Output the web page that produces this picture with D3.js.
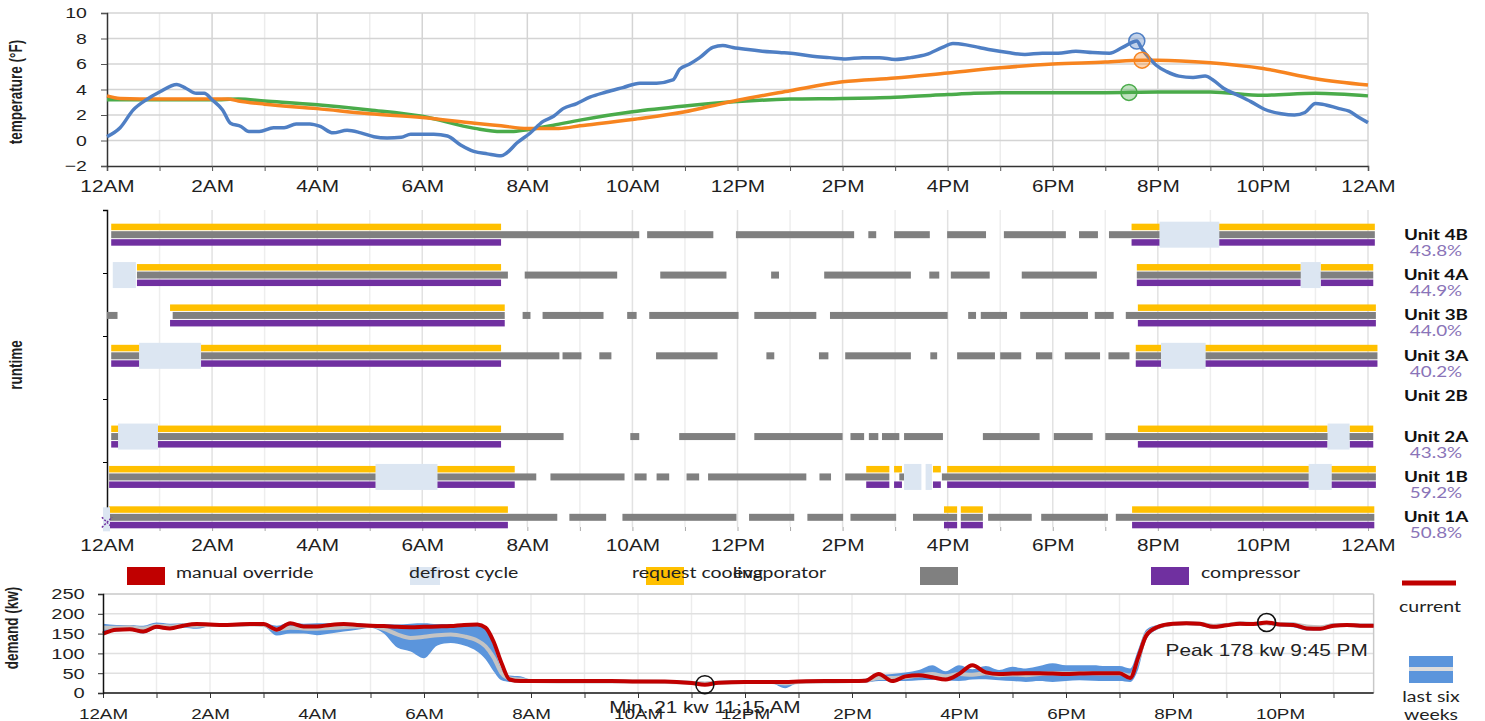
<!DOCTYPE html>
<html>
<head>
<meta charset="utf-8">
<title>Store refrigeration day</title>
<script src="https://cdn.jsdelivr.net/npm/d3@7"></script>
<style>
  body { margin: 0; background: #fff; }
  svg { display: block; font-family: "Liberation Sans", Arial, sans-serif; }
  .tick text { fill: #1f1f1f; }
  .lato { font-family: Lato, "Liberation Sans", sans-serif; }
</style>
</head>
<body>
<svg id="chart" width="1485" height="721"></svg>
<script>
const hourLabels = ['12AM','2AM','4AM','6AM','8AM','10AM','12PM','2PM','4PM','6PM','8PM','10PM','12AM'];
const tempTicks = [-2, 0, 2, 4, 6, 8, 10];
const demandTicks = [0, 50, 100, 150, 200, 250];

// temperature traces (hour of day -> °F)
const blueHours = [0,0.25,0.5,0.75,1,1.33,1.5,1.7,1.85,2,2.2,2.35,2.55,2.7,2.9,3.17,3.37,3.6,3.86,4.06,4.3,4.57,4.83,5.08,5.33,5.6,5.78,6.03,6.22,6.48,6.73,6.98,7.24,7.5,7.6,7.8,8.05,8.3,8.5,8.68,8.94,9.19,9.5,9.82,10.14,10.46,10.77,10.9,11.09,11.28,11.53,11.72,11.91,12.16,12.47,12.8,13.1,13.43,13.75,14.06,14.38,14.7,15,15.3,15.6,15.9,16.1,16.35,16.6,16.84,17.15,17.47,17.8,18.1,18.44,18.76,19.08,19.33,19.6,19.7,19.83,19.97,20.17,20.4,20.67,20.9,21.05,21.25,21.5,21.77,22.03,22.35,22.6,22.8,23,23.13,23.45,23.64,23.83,24];
const blueTemp = [0.3,1.0,2.4,3.2,3.8,4.4,4.1,3.7,3.7,3.2,2.4,1.35,1.1,0.7,0.7,1.0,1.0,1.3,1.3,1.1,0.6,0.8,0.6,0.3,0.2,0.25,0.5,0.5,0.5,0.35,-0.35,-0.85,-1.05,-1.2,-1.0,-0.2,0.57,1.5,1.9,2.5,2.9,3.4,3.8,4.15,4.5,4.5,4.75,5.6,6.0,6.5,7.3,7.45,7.3,7.15,7.0,6.9,6.8,6.6,6.5,6.4,6.5,6.5,6.35,6.5,6.75,7.3,7.6,7.5,7.3,7.1,6.9,6.75,6.85,6.85,7.0,6.9,6.85,7.3,7.8,7.15,6.5,5.9,5.4,5.05,4.95,5.05,4.75,4.1,3.6,3.05,2.45,2.1,2.0,2.2,2.9,2.85,2.5,2.3,1.8,1.4];
const orangeHours = [0,0.25,1,2,2.3,2.5,3,4,5,6,7,7.5,8,8.6,9,10,11,11.5,12,13,14,15,16,17,18,19,19.7,20,21,22,23,24];
const orangeTemp = [3.5,3.3,3.25,3.25,3.25,3.1,2.85,2.5,2.1,1.8,1.35,1.15,0.95,0.95,1.15,1.65,2.25,2.7,3.15,3.9,4.6,4.9,5.3,5.7,6.0,6.15,6.3,6.3,6.1,5.65,4.85,4.35];
const greenHours = [0,1,2,2.5,3,4,5,6,7,7.5,7.7,8,8.5,9,10,11,12,13,14,15,16,16.5,17,18,19,20,21,22,23,24];
const greenTemp = [3.2,3.2,3.2,3.25,3.1,2.8,2.4,1.9,0.95,0.7,0.7,0.85,1.2,1.6,2.25,2.7,3.05,3.25,3.3,3.4,3.6,3.7,3.75,3.75,3.75,3.8,3.8,3.55,3.7,3.5];
const markerHours = [19.6, 19.7, 19.45]; // blue, orange, green

// runtime, one list of [start, end] hours per unit
const unitNames = ['Unit 4B','Unit 4A','Unit 3B','Unit 3A','Unit 2B','Unit 2A','Unit 1B','Unit 1A'];
const unitRuntime = ['43.8%','44.9%','44.0%','40.2%','','43.3%','59.2%','50.8%'];
const coolingRuns = [
  [[0.08,7.5],[19.5,20.05],[21.15,24.13]],
  [[0.57,7.5],[19.6,22.72],[23.1,24.1]],
  [[1.2,7.57],[19.62,24.15]],
  [[0.08,7.5],[19.58,24.18]],
  [],
  [[0.08,7.5],[19.62,23.23],[23.65,24.1]],
  [[0.04,7.76],[14.45,14.89],[14.98,15.13],[15.72,15.87],[15.99,24.15]],
  [[0.04,7.63],[15.93,16.18],[16.25,16.67],[19.51,24.12]]
];
const evaporatorRuns = [
  [[0.08,10.13],[10.28,11.54],[11.97,14.22],[14.49,14.64],[14.98,15.66],[15.99,16.73],[17.07,18.25],[18.5,18.86],[19.07,24.13]],
  [[0.57,7.63],[7.95,9.71],[10.53,11.79],[12.64,12.79],[13.65,15.3],[15.65,15.84],[16.06,16.8],[17.41,18.84],[19.6,24.1]],
  [[0,0.2],[1.25,7.57],[7.91,8.06],[8.29,9.45],[9.9,10.08],[10.32,12.02],[12.32,13.5],[13.76,16.0],[16.39,16.54],[16.63,17.13],[17.38,18.67],[18.8,19.16],[19.39,24.15]],
  [[0.08,8.61],[8.67,9.03],[9.37,9.6],[10.45,11.62],[12.55,12.7],[13.55,13.73],[14.05,15.3],[15.67,15.8],[16.18,16.9],[17.0,17.4],[17.68,17.99],[18.23,18.9],[19.06,19.46],[19.58,24.18]],
  [],
  [[0.08,8.69],[9.96,10.13],[10.89,11.96],[12.32,14.0],[14.15,14.41],[14.5,14.68],[14.75,15.08],[15.17,15.91],[16.67,17.75],[18.02,18.76],[19.0,24.1]],
  [[0.04,8.17],[8.44,9.85],[10.04,10.27],[10.46,10.7],[11.03,11.27],[11.44,13.31],[13.56,13.78],[14.05,14.89],[15.08,15.17],[15.89,24.15]],
  [[0.04,8.57],[8.8,9.5],[9.81,11.98],[12.22,13.08],[13.33,14.01],[14.15,15.02],[15.34,16.18],[16.25,16.67],[16.77,17.6],[17.78,19.05],[19.2,24.12]]
];
const compressorRuns = [
  [[0.08,7.5],[19.5,20.05],[21.15,24.13]],
  [[0.57,7.5],[19.6,22.72],[23.1,24.1]],
  [[1.2,7.57],[19.62,24.15]],
  [[0.08,7.5],[19.58,24.18]],
  [],
  [[0.08,7.5],[19.62,23.23],[23.65,24.1]],
  [[0.04,7.76],[14.45,14.89],[14.98,15.13],[15.72,15.87],[15.99,24.15]],
  [[0.04,7.63],[15.93,16.18],[16.25,16.67],[19.51,24.12]]
];
const defrostRuns = [
  [[20.03,21.17]],
  [[0.11,0.55],[22.72,23.1]],
  [],
  [[0.61,1.79],[20.06,20.91]],
  [],
  [[0.21,0.97],[23.23,23.65]],
  [[5.11,6.29],[15.17,15.5],[15.58,15.7],[22.87,23.31]],
  []
];
const overrideMarks = [['Unit 1A', 0]];

const legendLabels = ['manual override','defrost cycle','request cooling','evaporator','compressor'];
const legendColors = ['#C00000','#DCE6F2','#FFC000','#808080','#7030A0'];

// demand (kw)
const demandHours = [0,0.25,0.5,0.75,1,1.25,1.5,1.75,2,2.25,2.5,2.75,3,3.25,3.5,3.75,4,4.25,4.5,4.75,5,5.25,5.5,5.75,6,6.25,6.5,6.75,7,
  7.15,7.3,7.45,7.6,7.8,8, 8.5,9,9.5,10,10.5,11, 11.25,11.5,12,12.5,12.75,13,13.5,14,
  14.25,14.5,14.75,15,15.25,15.5,15.75,16,16.25,16.5,16.75,17,17.25,17.5,17.75,18,18.25,18.5,18.75,19,
  19.2,19.35,19.5,19.7,20, 20.25,20.5,20.75,21,21.25,21.5,21.75,22,22.25,22.5,22.75,23,23.25,23.5,23.75];
const demandCurrent = [150,160,161,155,167,163,170,174,173,172,173,174,174,160,176,168,168,172,174,172,170,169,167,166,167,168,169,172,173,
  165,130,75,34,30,30, 30,30,30,29,29,25, 21,26,28,28,28,29,30,30,
  31,48,30,42,45,40,34,48,70,52,48,49,50,50,49,48,49,50,50,50,
  38,90,145,166,175, 176,175,167,171,175,174,178,173,172,163,162,170,172,170,170];
const sixWeekLow = [152,155,158,150,162,160,165,162,168,168,168,170,168,145,150,150,146,150,155,160,165,150,115,105,88,120,126,120,104,
  85,55,32,28,27,27, 26,26,26,26,25,22, 20,22,25,24,12,25,26,26,
  26,30,30,30,32,33,32,30,34,35,32,30,28,30,28,30,32,31,30,30,
  28,60,135,160,170, 172,170,163,167,171,170,172,168,166,158,158,166,168,166,166];
const sixWeekHigh = [175,172,172,170,178,175,176,176,176,176,176,176,176,170,178,175,176,176,176,176,174,174,173,175,176,174,174,174,175,
  168,120,60,44,42,34, 32,32,32,32,32,30, 28,30,32,32,30,32,33,34,
  36,45,48,52,58,70,55,70,60,68,58,66,62,68,75,70,70,70,68,68,
  62,110,160,172,178, 180,179,174,176,180,178,180,178,178,170,168,176,176,175,175];
const sixWeekMean = [165,165,166,163,170,168,171,170,172,172,172,173,172,160,165,163,162,164,166,168,170,162,148,139,142,146,148,143,132,
  118,90,50,37,34,30, 29,29,29,29,28,26, 24,26,28,28,24,28,29,30,
  31,38,38,40,44,48,42,48,46,50,45,47,45,48,50,50,50,50,49,49,
  44,85,148,166,174, 176,175,170,172,176,175,176,174,173,168,166,171,172,170,170];

const SX = 1.3; // the picture is stretched sideways, text too
const svg = d3.select('#chart');

function stretchText(sel) { sel.attr('transform', `scale(${SX},1)`); }
function putText(g, x, y, str) {
  return g.append('text').attr('transform', `translate(${x},${y}) scale(${SX},1)`).text(str);
}
function axisTitle(g, x, y, str) {
  return g.append('text').attr('transform', `translate(${x},${y}) scale(${SX},1) rotate(-90)`)
    .attr('text-anchor', 'middle').attr('font-size', 13.5).attr('font-weight', 'bold')
    .attr('fill', '#1f1f1f').text(str);
}
function hourTick(h) { return h % 2 ? '' : hourLabels[h / 2]; }
function clock(h) {
  const hh = Math.floor(h), mm = Math.round((h - hh) * 60);
  const ap = hh < 12 ? 'AM' : 'PM';
  return `${(hh % 12) || 12}:${String(mm).padStart(2, '0')} ${ap}`;
}
function interp(hours, vals, h) {
  const i = Math.min(d3.bisectLeft(hours, h), hours.length - 1);
  if (i === 0) return vals[0];
  const t = (h - hours[i - 1]) / (hours[i] - hours[i - 1]);
  return vals[i - 1] + t * (vals[i] - vals[i - 1]);
}

// ---------- temperature ----------
const xT = d3.scaleLinear().domain([0, 24]).range([107, 1368]);
const yT = d3.scaleLinear().domain([-2, 10]).range([166, 13]);
const tempG = svg.append('g');

tempG.append('g').selectAll('line').data(d3.range(1, 25)).join('line')
  .attr('x1', d => xT(d)).attr('x2', d => xT(d)).attr('y1', yT(10)).attr('y2', yT(-2))
  .attr('stroke', d => d % 2 ? '#ececec' : '#d4d4d4').attr('stroke-width', 1.5);
tempG.append('g').selectAll('line').data(tempTicks.slice(1)).join('line')
  .attr('x1', xT(0)).attr('x2', xT(24)).attr('y1', d => yT(d)).attr('y2', d => yT(d))
  .attr('stroke', '#d4d4d4').attr('stroke-width', 1.5);

const tx = tempG.append('g').attr('transform', `translate(0,${yT(-2)})`)
  .call(d3.axisBottom(xT).tickValues(d3.range(0, 25)).tickFormat(hourTick).tickSize(5).tickPadding(10));
const ty = tempG.append('g').attr('transform', `translate(${xT(0)},0)`)
  .call(d3.axisLeft(yT).tickValues(tempTicks).tickSize(6).tickPadding(9.5));
[tx, ty].forEach(a => {
  a.select('.domain').attr('stroke', '#333').attr('stroke-width', 1.5);
  a.selectAll('.tick line').attr('stroke', '#555');
  a.selectAll('text').call(stretchText);
});
tx.selectAll('text').attr('font-size', 16);
ty.selectAll('text').attr('font-size', 15);

const tempLine = d3.line().x(d => xT(d[0])).y(d => yT(d[1])).curve(d3.curveMonotoneX);
const tempSeries = [
  { hours: greenHours, vals: greenTemp, color: '#4aab4a' },
  { hours: orangeHours, vals: orangeTemp, color: '#f7841f' },
  { hours: blueHours, vals: blueTemp, color: '#4f7fc4' }
];
tempSeries.forEach(s => {
  tempG.append('path').datum(d3.zip(s.hours, s.vals)).attr('d', tempLine)
    .attr('fill', 'none').attr('stroke', s.color).attr('stroke-width', 3.5).attr('stroke-linejoin', 'round');
});
[tempSeries[2], tempSeries[1], tempSeries[0]].forEach((s, i) => {
  const h = markerHours[i];
  tempG.append('circle').attr('cx', xT(h)).attr('cy', yT(interp(s.hours, s.vals, h))).attr('r', 8)
    .attr('fill', s.color).attr('fill-opacity', 0.35).attr('stroke', s.color).attr('stroke-width', 1.5);
});
axisTitle(tempG, 22, 92, 'temperature (°F)');

// ---------- runtime ----------
const xR = d3.scaleLinear().domain([0, 24]).range([107, 1368]);
const rowY = d3.scaleBand().domain(unitNames).range([214.5, 537.5]);
const rowC = n => rowY(n) + rowY.bandwidth() / 2;
const yAxisR = d3.scaleLinear().domain([0, 5]).range([525, 210]);
const runG = svg.append('g');

runG.append('g').selectAll('line').data(d3.range(1, 25)).join('line')
  .attr('x1', d => xR(d)).attr('x2', d => xR(d)).attr('y1', 210).attr('y2', 527)
  .attr('stroke', d => d % 2 ? '#eeeeee' : '#e2e2e2').attr('stroke-width', 1.5);

const rx = runG.append('g').attr('transform', 'translate(0,527)')
  .call(d3.axisBottom(xR).tickValues(d3.range(0, 25)).tickFormat(hourTick).tickSize(4).tickPadding(9));
rx.select('.domain').remove();
rx.selectAll('.tick line').attr('stroke', '#aaa');
rx.selectAll('text').attr('font-size', 16).call(stretchText);
const ry = runG.append('g').attr('transform', `translate(${xR(0)},0)`)
  .call(d3.axisLeft(yAxisR).ticks(5).tickFormat('').tickSize(4));
ry.select('.domain').attr('stroke', '#111').attr('stroke-width', 1.5);

const layers = [
  { runs: evaporatorRuns, color: '#808080', dy: -3.5, h: 7 },
  { runs: coolingRuns, color: '#FFC000', dy: -11, h: 6.5 },
  { runs: compressorRuns, color: '#7030A0', dy: 4.5, h: 6.5 },
  { runs: defrostRuns, color: '#DCE6F2', dy: -13, h: 26 }
];
layers.forEach(L => {
  const flat = [];
  L.runs.forEach((list, i) => list.forEach(r => flat.push({ unit: unitNames[i], s: r[0], e: r[1] })));
  runG.append('g').selectAll('rect').data(flat).join('rect')
    .attr('x', d => xR(d.s)).attr('width', d => xR(d.e) - xR(d.s))
    .attr('y', d => rowC(d.unit) + L.dy).attr('height', L.h).attr('fill', L.color);
});
overrideMarks.forEach(([u, h]) => {
  runG.append('rect').attr('x', xR(h) - 4).attr('y', rowC(u) - 10).attr('width', 7).attr('height', 24).attr('fill', '#DCE6F2');
  runG.append('path').attr('d', d3.symbol(d3.symbolX, 70)())
    .attr('transform', `translate(${xR(h)},${rowC(u) + 5})`)
    .attr('fill', 'none').attr('stroke', '#7030A0').attr('stroke-width', 1.5).attr('stroke-dasharray', '2,1.5');
});

const names = runG.append('g').attr('class', 'lato').attr('text-anchor', 'middle');
unitNames.forEach((n, i) => {
  putText(names, 1436, rowC(n) + 5, n).attr('font-size', 14.5).attr('font-weight', 'bold').attr('fill', '#111');
  putText(names, 1436, rowC(n) + 21, unitRuntime[i]).attr('font-size', 14.5).attr('fill', '#8a74b8');
});
axisTitle(runG, 22, 365, 'runtime');

// legend row
const legSwatchX = [127, 410, 646, 920, 1151];
const legTextX = [176, 409, 632, 733, 1201];
const leg = svg.append('g').attr('class', 'lato');
legendColors.forEach((c, i) => {
  leg.append('rect').attr('x', legSwatchX[i]).attr('y', 567).attr('width', i === 1 ? 30 : 38).attr('height', 18).attr('fill', c);
});
legendLabels.forEach((t, i) => {
  putText(leg, legTextX[i], 578, t).attr('font-size', 15).attr('fill', '#222');
});

// ---------- demand ----------
const xD = d3.scaleLinear().domain([0, 24]).range([103, 1387]);
const yD = d3.scaleLinear().domain([0, 250]).range([693, 594]);
const endH = demandHours[demandHours.length - 1];
const demG = svg.append('g');

demG.append('g').selectAll('line').data(d3.range(1, 24)).join('line')
  .attr('x1', d => xD(d)).attr('x2', d => xD(d)).attr('y1', yD(250)).attr('y2', yD(0))
  .attr('stroke', '#ececec').attr('stroke-width', 1.5);
demG.append('g').selectAll('line').data(demandTicks.slice(1)).join('line')
  .attr('x1', xD(0)).attr('x2', xD(endH)).attr('y1', d => yD(d)).attr('y2', d => yD(d))
  .attr('stroke', d => d === 250 ? '#c8c8c8' : '#e0e0e0').attr('stroke-width', 1.5);
demG.append('line').attr('x1', xD(endH)).attr('x2', xD(endH)).attr('y1', yD(250)).attr('y2', yD(0))
  .attr('stroke', '#c8c8c8').attr('stroke-width', 1.5);

const dRows = demandHours.map((h, i) => ({ h, cur: demandCurrent[i], lo: sixWeekLow[i], hi: sixWeekHigh[i], mean: sixWeekMean[i] }));
demG.append('path').datum(dRows)
  .attr('d', d3.area().x(d => xD(d.h)).y0(d => yD(d.lo)).y1(d => yD(d.hi)).curve(d3.curveMonotoneX))
  .attr('fill', '#5b95dc');
demG.append('path').datum(dRows)
  .attr('d', d3.line().x(d => xD(d.h)).y(d => yD(d.mean)).curve(d3.curveMonotoneX))
  .attr('fill', 'none').attr('stroke', '#c4c4c4').attr('stroke-width', 4);
demG.append('path').datum(dRows)
  .attr('d', d3.line().x(d => xD(d.h)).y(d => yD(d.cur)).curve(d3.curveMonotoneX))
  .attr('fill', 'none').attr('stroke', '#C00000').attr('stroke-width', 4).attr('stroke-linejoin', 'round');

const bx = demG.append('g').attr('transform', `translate(0,${yD(0)})`)
  .call(d3.axisBottom(xD).tickValues(d3.range(0, 24)).tickFormat(hourTick).tickSize(5).tickPadding(10.5));
bx.select('.domain').attr('d', `M${xD(0)},0H${xD(endH)}`);
const by = demG.append('g').attr('transform', `translate(${xD(0)},0)`)
  .call(d3.axisLeft(yD).tickValues(demandTicks).tickSize(5).tickPadding(9));
[bx, by].forEach(a => {
  a.select('.domain').attr('stroke', '#111').attr('stroke-width', 1.5);
  a.selectAll('.tick line').attr('stroke', '#333');
  a.selectAll('text').call(stretchText);
});
bx.selectAll('text').attr('font-size', 14.5);
by.selectAll('text').attr('font-size', 15.5);

// peak and minimum notes
const iMax = d3.maxIndex(demandCurrent), iMin = d3.minIndex(demandCurrent);
const notes = [
  { i: iMax, text: `Peak ${demandCurrent[iMax]} kw ${clock(demandHours[iMax])}`, dy: 33 },
  { i: iMin, text: `Min. ${demandCurrent[iMin]} kw ${clock(demandHours[iMin])}`, dy: 28 }
];
notes.forEach(n => {
  const cx = xD(demandHours[n.i]), cy = yD(demandCurrent[n.i]);
  demG.append('circle').attr('cx', cx).attr('cy', cy).attr('r', 9)
    .attr('fill', 'none').attr('stroke', '#111').attr('stroke-width', 1.5);
  putText(demG, cx, cy + n.dy, n.text).attr('text-anchor', 'middle').attr('font-size', 16).attr('fill', '#222');
});
axisTitle(demG, 18, 628, 'demand (kw)');

// side legend
const side = svg.append('g').attr('class', 'lato').attr('text-anchor', 'middle');
side.append('line').attr('x1', 1402).attr('x2', 1456).attr('y1', 583).attr('y2', 583)
  .attr('stroke', '#C00000').attr('stroke-width', 5);
putText(side, 1430, 612, 'current').attr('font-size', 15).attr('fill', '#222');
side.append('rect').attr('x', 1409).attr('y', 656).attr('width', 44).attr('height', 27).attr('fill', '#5b95dc');
side.append('rect').attr('x', 1409).attr('y', 667).attr('width', 44).attr('height', 4).attr('fill', '#dcdcdc');
putText(side, 1431, 702, 'last six').attr('font-size', 15).attr('fill', '#222');
putText(side, 1431, 720, 'weeks').attr('font-size', 15).attr('fill', '#222');
</script>
</body>
</html>
